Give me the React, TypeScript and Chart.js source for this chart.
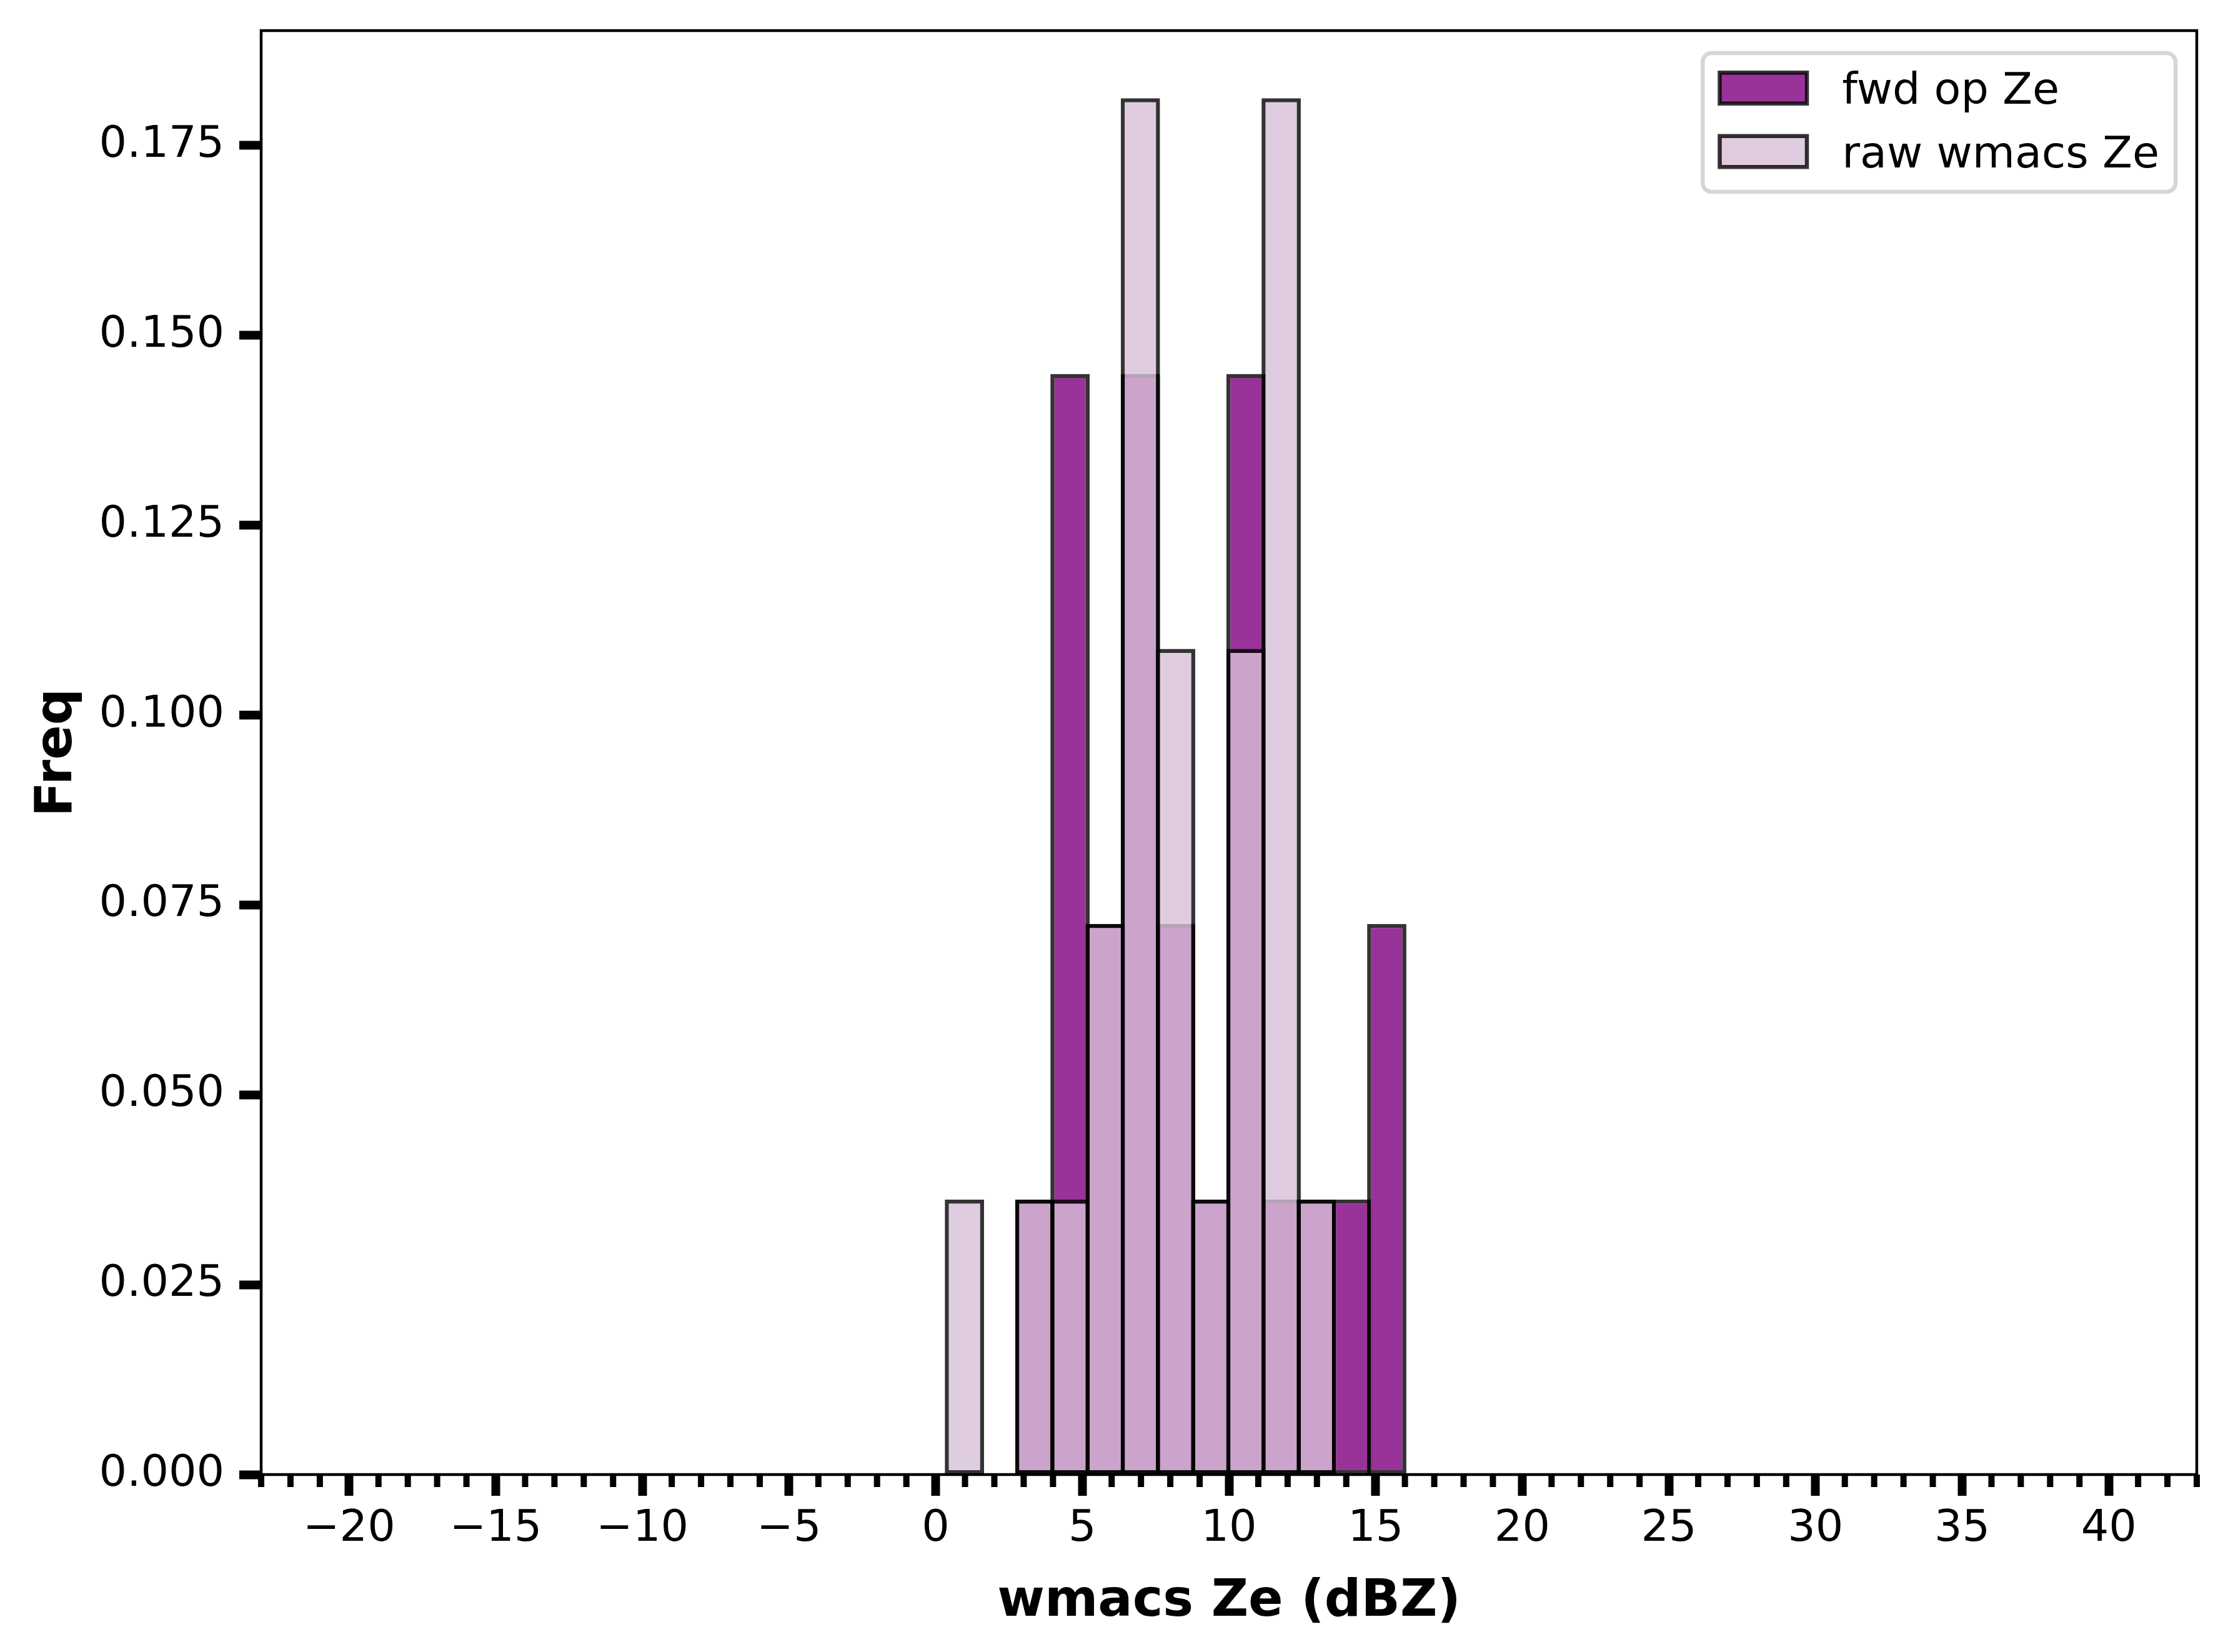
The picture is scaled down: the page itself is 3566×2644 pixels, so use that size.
import { useEffect, useRef } from "react";
import { Chart, registerables } from "chart.js";

Chart.register(...registerables);

// histogram bins (centres, dBZ) and normalised frequencies
const binCenters = [0.98, 2.18, 3.38, 4.58, 5.78, 6.98, 8.18, 9.38, 10.58, 11.78, 12.98, 14.18, 15.38];
const fwdFreq = [0, 0, 0.0362, 0.1449, 0.0725, 0.1449, 0.0725, 0.0362, 0.1449, 0.0362, 0.0362, 0.0362, 0.0725];
const rawFreq = [0.0362, 0, 0.0362, 0.0362, 0.0725, 0.1812, 0.1087, 0.0362, 0.1087, 0.1812, 0.0362, 0, 0];
const seriesLabels = ["fwd op Ze", "raw wmacs Ze"];
const xLimits = [-23, 43];
const yLimits = [0, 0.1901];

const FONT = "'DejaVu Sans', sans-serif";

const toPoints = (vals: number[]) =>
  binCenters.map((x, i) => ({ x, y: vals[i] })).filter((p) => p.y > 0);

// axes frame and minor x ticks
const framePlugin = {
  id: "frameAndMinor",
  afterDatasetsDraw(chart: any) {
    const { ctx, chartArea: a, scales } = chart;
    const xs = scales.x;
    ctx.save();
    ctx.strokeStyle = "#000";
    ctx.lineWidth = 10;
    ctx.beginPath();
    for (let v = Math.ceil(xs.min); v <= xs.max; v++) {
      if (v % 5 === 0) continue;
      const px = xs.getPixelForValue(v);
      ctx.moveTo(px, a.bottom);
      ctx.lineTo(px, a.bottom + 20);
    }
    ctx.stroke();
    ctx.lineWidth = 4.5;
    ctx.strokeRect(a.left, a.top, a.right - a.left, a.bottom - a.top);
    ctx.restore();
  },
};

// matplotlib-style legend box in the upper right of the axes
const legendPlugin = {
  id: "boxLegend",
  afterDraw(chart: any) {
    const { ctx, chartArea: a } = chart;
    const sets = chart.data.datasets;
    ctx.save();
    ctx.font = `70px ${FONT}`;
    const textW = Math.max(...sets.map((d: any) => ctx.measureText(d.label).width));
    const boxW = 24 + 146 + 53 + textW + 26;
    const boxH = 222;
    const right = a.right - 34;
    const top = a.top + 36;
    const left = right - boxW;

    ctx.beginPath();
    ctx.roundRect(left, top, boxW, boxH, 14);
    ctx.fillStyle = "rgba(255,255,255,0.8)";
    ctx.fill();
    ctx.lineWidth = 6.5;
    ctx.strokeStyle = "#d6d6d6";
    ctx.stroke();

    sets.forEach((d: any, i: number) => {
      const cy = top + 56 + i * 101.5;
      const sx = left + 24 + 3.25;
      const sy = cy - 28 + 3.25;
      ctx.fillStyle = "#fff";
      ctx.fillRect(sx, sy, 139.5, 49.5);
      ctx.fillStyle = d.backgroundColor;
      ctx.fillRect(sx, sy, 139.5, 49.5);
      ctx.lineWidth = 6.5;
      ctx.strokeStyle = d.borderColor;
      ctx.strokeRect(sx, sy, 139.5, 49.5);
      ctx.fillStyle = "#000";
      ctx.textBaseline = "alphabetic";
      ctx.textAlign = "left";
      ctx.fillText(d.label, left + 24 + 146 + 53, cy + 25);
    });
    ctx.restore();
  },
};

export default function App() {
  const canvasRef = useRef<HTMLCanvasElement>(null);
  const chartRef = useRef<Chart | null>(null);

  useEffect(() => {
    if (!canvasRef.current) return;
    if (chartRef.current) chartRef.current.destroy();

    const barStyle = {
      borderWidth: 6.5,
      borderSkipped: false as const,
      borderColor: "rgba(0,0,0,0.8)",
      grouped: false,
      categoryPercentage: 1,
      barPercentage: 1.115,
    };

    chartRef.current = new Chart(canvasRef.current, {
      type: "bar",
      data: {
        datasets: [
          {
            label: seriesLabels[0],
            data: toPoints(fwdFreq),
            backgroundColor: "rgba(128,0,128,0.8)",
            order: 2,
            ...barStyle,
          },
          {
            label: seriesLabels[1],
            data: toPoints(rawFreq),
            backgroundColor: "rgba(216,191,216,0.8)",
            order: 1,
            ...barStyle,
          },
        ],
      },
      options: {
        animation: false,
        responsive: true,
        maintainAspectRatio: false,
        devicePixelRatio: 1,
        layout: { padding: { top: 49, right: 50, left: 0, bottom: 0 } },
        plugins: {
          legend: { display: false },
          tooltip: { enabled: false },
        },
        scales: {
          x: {
            type: "linear",
            offset: false,
            min: xLimits[0],
            max: xLimits[1],
            afterFit: (s: any) => {
              s.height = 284;
              s.paddingLeft = 0;
              s.paddingRight = 0;
            },
            border: { display: false },
            grid: {
              display: true,
              drawOnChartArea: false,
              drawTicks: true,
              tickLength: 34,
              tickWidth: 14,
              tickColor: "#000",
              offset: false,
            },
            ticks: {
              stepSize: 5,
              includeBounds: false,
              autoSkip: false,
              maxRotation: 0,
              padding: 12,
              color: "#000",
              font: { family: FONT, size: 70 },
              callback: (v: any) => (Number(v) < 0 ? "\u2212" + Math.abs(Number(v)) : String(v)),
            },
            title: {
              display: true,
              text: "wmacs Ze (dBZ)",
              color: "#000",
              font: { family: FONT, size: 82, weight: "bold", lineHeight: 1.2 },
              padding: { top: 0, bottom: 30 },
            },
          },
          y: {
            type: "linear",
            min: yLimits[0],
            max: yLimits[1],
            afterFit: (s: any) => {
              s.width = 418;
              s.paddingTop = 0;
              s.paddingBottom = 0;
            },
            border: { display: false },
            grid: {
              display: true,
              drawOnChartArea: false,
              drawTicks: true,
              tickLength: 35,
              tickWidth: 14,
              tickColor: "#000",
            },
            ticks: {
              stepSize: 0.025,
              includeBounds: false,
              padding: 24,
              color: "#000",
              font: { family: FONT, size: 70 },
              callback: (v: any) => Number(v).toFixed(3),
            },
            title: {
              display: true,
              text: "Freq",
              color: "#000",
              font: { family: FONT, size: 82, weight: "bold", lineHeight: 1.2 },
              padding: { top: 44, bottom: 0 },
            },
          },
        },
      },
      plugins: [framePlugin, legendPlugin],
    } as any);

    return () => {
      if (chartRef.current) {
        chartRef.current.destroy();
        chartRef.current = null;
      }
    };
  }, []);

  return (
    <div style={{ position: "absolute", left: 0, top: 0, width: 3566, height: 2644, background: "#fff" }}>
      <canvas ref={canvasRef} />
    </div>
  );
}
